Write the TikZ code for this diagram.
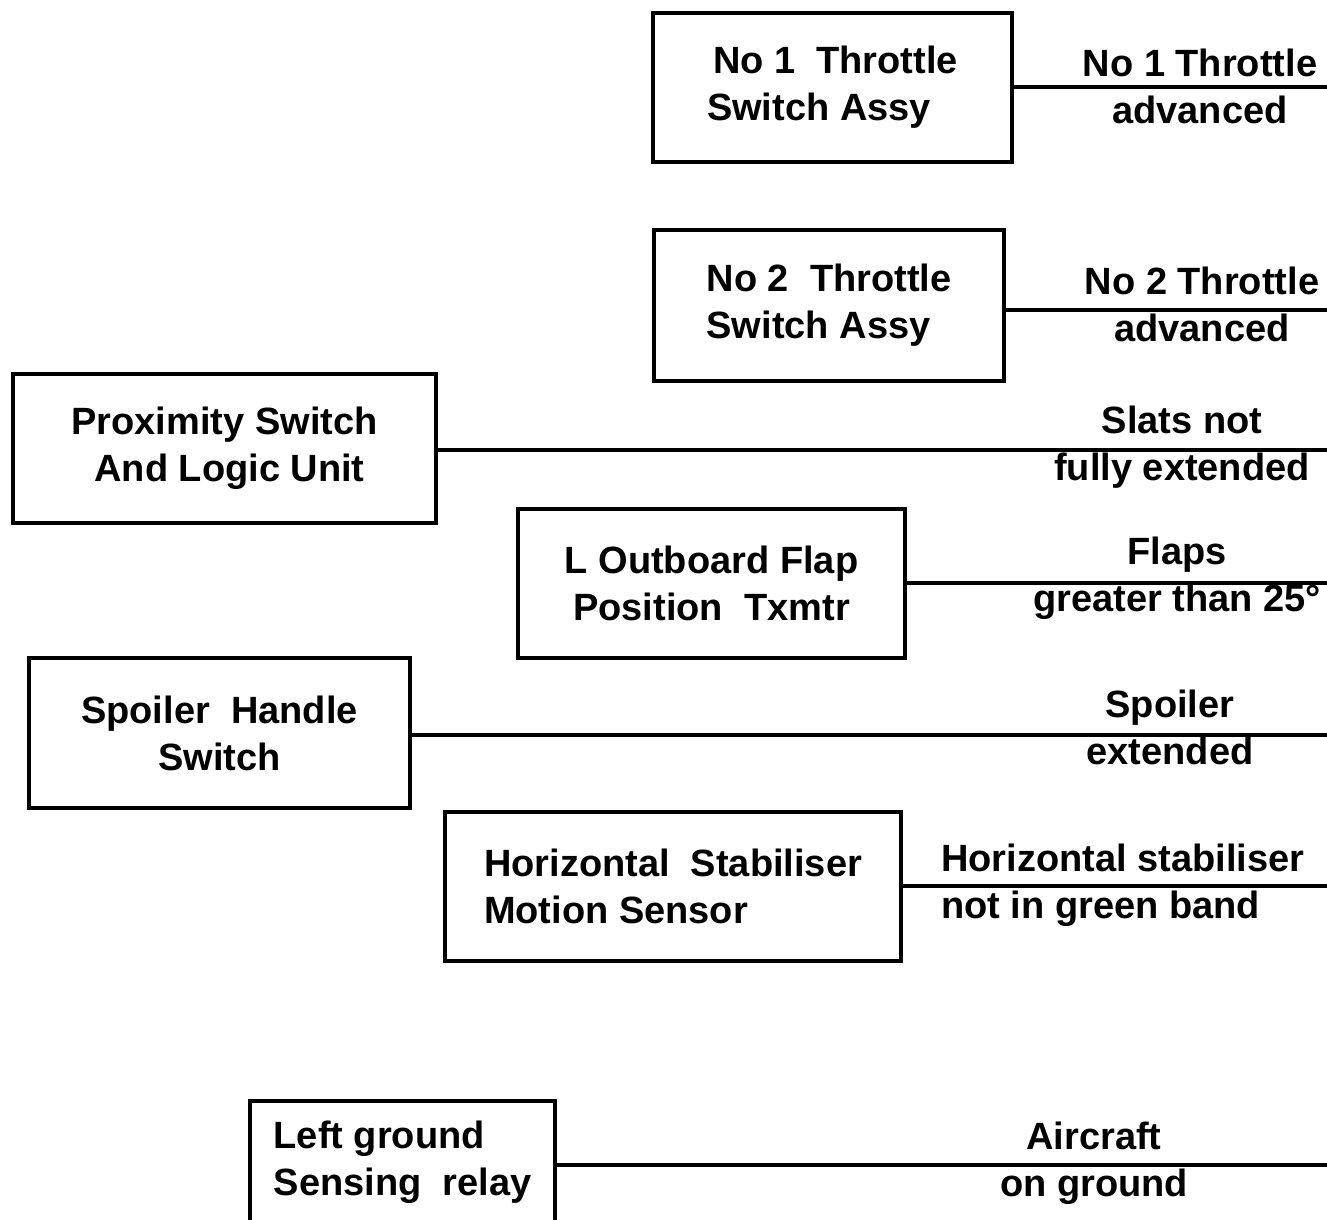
\documentclass[tikz,border=0pt]{standalone}
\usepackage{fontspec}
\setmainfont{Liberation Sans}
\begin{document}
\begin{tikzpicture}[x=1pt,y=-1pt,
  every node/.style={font=\fontsize{38}{47}\selectfont\bfseries},
  box/.style={draw, line width=4pt, inner sep=0pt},
  lab/.style={inner sep=0pt, align=center},
  wire/.style={line width=4pt}]
\useasboundingbox (0,0) rectangle (1327,1219);
% boxes
\node[box, minimum width=359pt, minimum height=149pt, align=left] (b1) at (832.5,87.5) {\hspace{6pt}No 1\ \ Throttle\\Switch Assy};
\node[box, minimum width=350pt, minimum height=151pt, align=left] (b2) at (829,305.5) {No 2\ \ Throttle\\Switch Assy};
\node[box, minimum width=423pt, minimum height=149pt, align=center] (b3) at (224.5,448.5) {Proximity Switch\\\hspace{10pt}And Logic Unit};
\node[box, minimum width=387pt, minimum height=149pt, align=center] (b4) at (711.5,583.5) {L Outboard Flap\\Position\ \ Txmtr};
\node[box, minimum width=381pt, minimum height=150pt, align=center] (b5) at (219.5,733) {Spoiler\ \ Handle\\Switch};
\node[box, minimum width=456pt, minimum height=149pt, align=left] (b6) at (673,886.5) {Horizontal\ \ Stabiliser\\Motion Sensor};
\node[box, minimum width=305pt, minimum height=123pt, align=left] (b7) at (402.5,1162.5) {Left ground\\Sensing\ \ relay};
% free ends at the right edge
\coordinate (e1) at (1330,87);
\coordinate (e2) at (1330,310);
\coordinate (e3) at (1330,450);
\coordinate (e4) at (1330,583);
\coordinate (e5) at (1330,735);
\coordinate (e6) at (1330,886);
\coordinate (e7) at (1330,1165);
% connectors
\draw[wire] (b1.east |- e1) -- (e1);
\draw[wire] (b2.east |- e2) -- (e2);
\draw[wire] (b3.east |- e3) -- (e3);
\draw[wire] (b4.east |- e4) -- (e4);
\draw[wire] (b5.east |- e5) -- (e5);
\draw[wire] (b6.east |- e6) -- (e6);
\draw[wire] (b7.east |- e7) -- (e7);
% labels
\node[lab] (l1) at (1200,86) {No 1 Throttle\\advanced};
\node[lab] (l2) at (1202,304.5) {No 2 Throttle\\advanced};
\node[lab] (l3) at (1182,447) {Slats not\\fully extended};
\node[lab] (l4) at (1177,578.5) {Flaps\\greater than 25°};
\node[lab] (l5) at (1170,727) {Spoiler\\extended};
\node[lab, align=left, anchor=west] (l6) at (941,885) {Horizontal stabiliser\\not in green band};
\node[lab] (l7) at (1094,1163) {Aircraft\\on ground};
\end{tikzpicture}
\end{document}
